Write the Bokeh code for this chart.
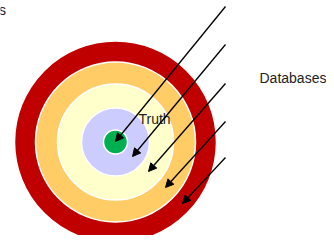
from bokeh.plotting import figure
from bokeh.models import Arrow, NormalHead, Range1d, ColumnDataSource
from bokeh.core.properties import value
from bokeh.embed import file_html
from bokeh.resources import INLINE

# Target rings (outer to inner)
ring_names = ["outer", "ring3", "ring2", "ring1", "core"]
ring_radius = [101, 80, 58, 34, 12]
ring_colors = ["#C00000", "#FFCC66", "#FFFFCC", "#CCCCFF", "#00B050"]
center_x = [115]
center_y = [141.5]

# Arrows (database pointers)
arrow_x0 = [225, 225, 225, 225, 225]
arrow_y0 = [6, 44, 83, 121, 157]
arrow_x1 = [115, 132, 148, 165, 182]
arrow_y1 = [141, 156, 171, 187, 203]

labels = ["Databases", "Truth"]
label_x = [259, 138]
label_y = [77, 118]

W, H = 326, 235
p = figure(width=W, height=H, output_backend="svg", toolbar_location=None,
           x_range=Range1d(0, W), y_range=Range1d(H, 0),
           min_border=0, border_fill_color="white", outline_line_color=None)
p.axis.visible = False
p.grid.visible = False

src = ColumnDataSource(dict(x=center_x * len(ring_radius), y=center_y * len(ring_radius),
                            r=ring_radius, c=ring_colors))
p.circle(x="x", y="y", radius="r", fill_color="c", line_color="white",
         line_width=1.5, source=src)

for x0, y0, x1, y1 in zip(arrow_x0, arrow_y0, arrow_x1, arrow_y1):
    p.add_layout(Arrow(end=NormalHead(size=8, fill_color="black", line_color="black", line_width=1),
                       x_start=x0, y_start=y0, x_end=x1, y_end=y1,
                       line_color="black", line_width=1.3))

p.text(x=label_x, y=label_y, text=labels, text_font=value("Liberation Sans"),
       text_font_size="14px", text_baseline="middle", text_align="left",
       text_color="#222222")

p.text(x=[5.5], y=[9], text=["s"], text_font=value("Liberation Sans"),
       text_font_size="14px", text_baseline="middle", text_align="right",
       text_color="#222222")

open("out.html", "w").write(file_html(p, INLINE))
